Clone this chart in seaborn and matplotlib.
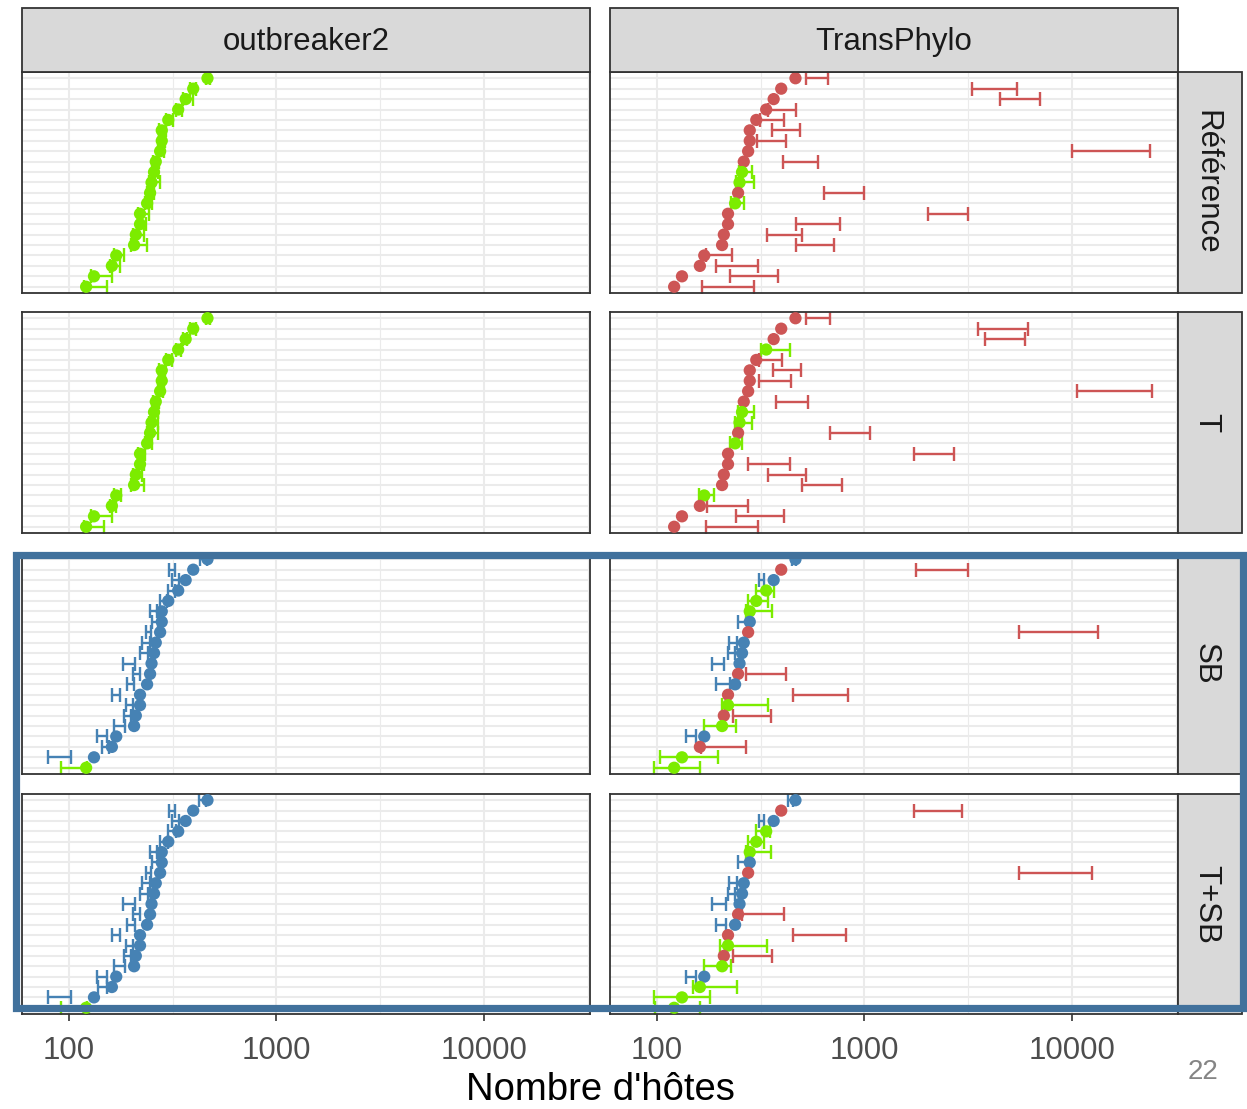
import numpy as np
import pandas as pd
import seaborn as sns
import matplotlib.pyplot as plt
from matplotlib.patches import Rectangle

# true outbreak sizes, top row to bottom row
true_hosts = [465, 397, 365, 336, 301, 280, 280, 275, 262, 257, 250,
              246, 238, 220, 220, 210, 206, 169, 161, 132, 121]

scenarios = ["Référence", "T", "SB", "T+SB"]
methods = ["outbreaker2", "TransPhylo"]

# credible intervals (low / high) and status, one set per panel
ref_ob_lo = [455, 385, 355, 328, 294, 272, 272, 268, 255, 250, 243, 239, 232, 214, 214, 204, 200, 164, 157, 128, 118]
ref_ob_hi = [480, 410, 395, 352, 318, 292, 290, 286, 272, 268, 275, 256, 250, 244, 235, 230, 237, 184, 176, 161, 152]
ref_ob_st = "g" * 21

ref_tp_lo = [523, 3290, 4500, 344, 313, 357, 304, 9970, 406, 248, 240, 638, 228, 2030, 466, 340, 466, 172, 192, 225, 164]
ref_tp_hi = [669, 5450, 7000, 468, 411, 489, 419, 23800, 599, 286, 293, 995, 262, 3165, 762, 502, 716, 231, 306, 384, 293]
ref_tp_st = "rrrrrrrrrggrgrrrrrrrr"

t_ob_lo = [455, 385, 355, 328, 294, 272, 272, 268, 255, 250, 243, 239, 232, 214, 214, 204, 200, 164, 157, 128, 118]
t_ob_hi = [478, 408, 372, 345, 312, 290, 288, 284, 272, 268, 270, 268, 250, 232, 230, 225, 230, 179, 168, 161, 147]
t_ob_st = "g" * 21

t_tp_lo = [521, 3520, 3800, 318, 311, 364, 311, 10600, 373, 245, 238, 682, 225, 1733, 274, 344, 498, 160, 175, 240, 172]
t_tp_hi = [682, 6130, 5930, 437, 402, 493, 441, 24300, 536, 294, 288, 1063, 258, 2700, 437, 523, 777, 188, 276, 409, 306]
t_tp_st = "rrrgrrrrrggrgrrrrgrrr"

sb_ob_lo = [428, 304, 313, 301, 275, 246, 250, 234, 224, 220, 183, 204, 191, 161, 188, 184, 165, 137, 144, 79, 92]
sb_ob_hi = [461, 324, 340, 324, 296, 265, 270, 248, 246, 241, 208, 220, 206, 176, 204, 200, 186, 153, 156, 102, 122]
sb_ob_st = "b" * 20 + "g"

sb_tp_lo = [445, 1765, 311, 299, 274, 268, 245, 5550, 223, 219, 184, 268, 192, 454, 205, 233, 168, 138, 163, 103, 97]
sb_tp_hi = [470, 3170, 328, 366, 344, 359, 271, 13300, 244, 238, 211, 418, 225, 836, 344, 353, 240, 155, 269, 197, 161]
sb_tp_st = "brbgggbrbbbrbrgrgbrgg"

tsb_ob_lo = [425, 304, 313, 301, 275, 246, 250, 234, 224, 219, 183, 204, 191, 161, 188, 184, 165, 137, 138, 79, 92]
tsb_ob_hi = [455, 324, 340, 328, 300, 265, 272, 248, 246, 241, 208, 221, 207, 176, 204, 200, 186, 153, 153, 102, 122]
tsb_ob_st = "b" * 20 + "g"

tsb_tp_lo = [428, 1733, 311, 299, 274, 268, 245, 5550, 223, 219, 185, 256, 192, 454, 201, 233, 168, 138, 150, 97, 98]
tsb_tp_hi = [452, 2950, 328, 350, 328, 353, 271, 12500, 244, 238, 215, 411, 216, 819, 338, 360, 227, 155, 242, 180, 162]
tsb_tp_st = "brbgggbrbbbrbrgrgbggg"

panels = {
    ("Référence", "outbreaker2"): (ref_ob_lo, ref_ob_hi, ref_ob_st),
    ("Référence", "TransPhylo"): (ref_tp_lo, ref_tp_hi, ref_tp_st),
    ("T", "outbreaker2"): (t_ob_lo, t_ob_hi, t_ob_st),
    ("T", "TransPhylo"): (t_tp_lo, t_tp_hi, t_tp_st),
    ("SB", "outbreaker2"): (sb_ob_lo, sb_ob_hi, sb_ob_st),
    ("SB", "TransPhylo"): (sb_tp_lo, sb_tp_hi, sb_tp_st),
    ("T+SB", "outbreaker2"): (tsb_ob_lo, tsb_ob_hi, tsb_ob_st),
    ("T+SB", "TransPhylo"): (tsb_tp_lo, tsb_tp_hi, tsb_tp_st),
}

rows = []
for (scen, meth), (lo, hi, st) in panels.items():
    for k in range(len(true_hosts)):
        rows.append(dict(scenario=scen, method=meth, pos=len(true_hosts) - k,
                         true=true_hosts[k], lo=lo[k], hi=hi[k], status=st[k]))
df = pd.DataFrame(rows)

pal = {"g": "#7CEC00", "r": "#CD5555", "b": "#4682B4"}

sns.set_theme(style="white")
plt.rcParams['font.family'] = ['Liberation Sans', 'DejaVu Sans']

W, H = 1247, 1109
fig = plt.figure(figsize=(W / 100, H / 100), dpi=100)


def box(x0, y0, x1, y1):
    return [x0 / W, 1 - y1 / H, (x1 - x0) / W, (y1 - y0) / H]


col_x = [(22, 590), (610, 1178)]
row_y = [(72, 293), (312, 533), (553, 774), (794, 1014)]
edge = "#333333"

for i, scen in enumerate(scenarios):
    for j, meth in enumerate(methods):
        x0, x1 = col_x[j]
        y0, y1 = row_y[i]
        ax = fig.add_axes(box(x0, y0, x1, y1))
        sub = df[(df.scenario == scen) & (df.method == meth)]
        ax.set_xscale("log")
        ax.set_xlim(59.4, 32400)
        ax.set_ylim(0.4, 21.6)
        ax.set_yticks(range(1, 22))
        ax.set_xticks([100, 1000, 10000])
        ax.set_xticks([316.2, 3162, 31623], minor=True)
        ax.grid(True, which="major", color="#EBEBEB", lw=1.5)
        ax.grid(True, which="minor", axis="x", color="#EBEBEB", lw=0.8)
        ax.set_axisbelow(True)
        ax.tick_params(axis="y", left=False, labelleft=False)
        ax.tick_params(axis="x", which="minor", length=0)
        if i == len(scenarios) - 1:
            ax.set_xticklabels(["100", "1000", "10000"])
            ax.tick_params(axis="x", which="major", bottom=True, length=5,
                           width=1.2, color=edge, labelsize=22.5,
                           labelcolor="#4D4D4D", pad=11)
        else:
            ax.tick_params(axis="x", which="major", bottom=False,
                           labelbottom=False)
        for s in ax.spines.values():
            s.set_color(edge)
            s.set_linewidth(1.3)

        for st, g in sub.groupby("status"):
            mid = np.sqrt(g["lo"] * g["hi"])
            ax.errorbar(mid, g["pos"], xerr=[mid - g["lo"], g["hi"] - mid],
                        fmt="none", ecolor=pal[st], elinewidth=1.7,
                        capsize=5, capthick=1.7, zorder=2)
        sns.scatterplot(data=sub, x="true", y="pos", hue="status", palette=pal,
                        s=78, linewidth=0, legend=False, ax=ax, zorder=3)
        ax.set_xlabel("")
        ax.set_ylabel("")

# strips
strip_fill = "#D9D9D9"
for j, meth in enumerate(methods):
    x0, x1 = col_x[j]
    fig.add_artist(Rectangle((x0 / W, 1 - 72 / H), (x1 - x0) / W, 64 / H,
                             transform=fig.transFigure, facecolor=strip_fill,
                             edgecolor=edge, lw=1.3))
    fig.text((x0 + x1) / 2 / W, 1 - 42 / H, meth, ha="center", va="center",
             fontsize=22.5, color="#1A1A1A")
for i, scen in enumerate(scenarios):
    y0, y1 = row_y[i]
    fig.add_artist(Rectangle((1178 / W, 1 - y1 / H), 64 / W, (y1 - y0) / H,
                             transform=fig.transFigure, facecolor=strip_fill,
                             edgecolor=edge, lw=1.3))
    fig.text(1206 / W, 1 - (y0 + y1) / 2 / H, scen, ha="center", va="center",
             rotation=-90, fontsize=22.5, color="#1A1A1A")

fig.text(600 / W, 1 - 1090 / H, "Nombre d'hôtes", ha="center", va="center",
         fontsize=27.5, color="black")
fig.text(1203 / W, 1 - 1072 / H, "22", ha="center", va="center",
         fontsize=20, color="#858585")

# highlight box
fig.add_artist(Rectangle((15.5 / W, 1 - 1008 / H), (1242.5 - 15.5) / W,
                         (1008 - 555) / H, transform=fig.transFigure,
                         fill=False, edgecolor="#41719C", lw=5.2, zorder=10))

fig.savefig("out.png", dpi=100)
